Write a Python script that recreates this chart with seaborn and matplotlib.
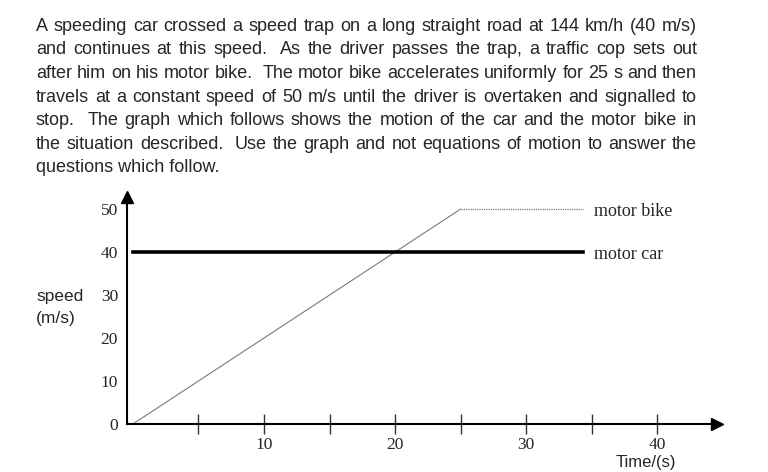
import numpy as np
import pandas as pd
import matplotlib
matplotlib.use("Agg")
import matplotlib.pyplot as plt
import seaborn as sns

# -----------------------------
# Data
# -----------------------------
bike_accel_time = [0, 25]
bike_accel_speed = [0, 50]
bike_const_time = [25, 34.3]
bike_const_speed = [50, 50]
car_time = [0, 34.3]
car_speed = [40, 40]

x_ticks = [5, 10, 15, 20, 25, 30, 35, 40]
x_labels = ["", "10", "", "20", "", "30", "", "40"]
y_ticks = [0, 10, 20, 30, 40, 50]

paragraph = [
    "A speeding car crossed a speed trap on a long straight road at 144 km/h (40 m/s)",
    "and continues at this speed.  As the driver passes the trap, a traffic cop sets out",
    "after him on his motor bike.  The motor bike accelerates uniformly for 25 s and then",
    "travels at a constant speed of 50 m/s until the driver is overtaken and signalled to",
    "stop.  The graph which follows shows the motion of the car and the motor bike in",
    "the situation described.  Use the graph and not equations of motion to answer the",
    "questions which follow.",
]

sns.set_style("white")
plt.rcParams["font.family"] = ["Liberation Sans", "DejaVu Sans"]

W, H = 768, 472
fig = plt.figure(figsize=(W / 100, H / 100), dpi=100)

# axes placed in pixel terms: spine from x=127 to 717, y=424 up to 197
ax = fig.add_axes([127 / W, (H - 424) / H, 590 / W, 227 / H])

bike1 = pd.DataFrame({"t": bike_accel_time, "v": bike_accel_speed})
bike2 = pd.DataFrame({"t": bike_const_time, "v": bike_const_speed})
car = pd.DataFrame({"t": car_time, "v": car_speed})

sns.lineplot(data=bike1, x="t", y="v", ax=ax, color="#7a7a7a", linewidth=0.8)
sns.lineplot(data=bike2, x="t", y="v", ax=ax, color="#7a7a7a", linewidth=0.9,
             linestyle=(0, (1, 0.8)))
sns.lineplot(data=car, x="t", y="v", ax=ax, color="black", linewidth=2.6,
             solid_capstyle="projecting")

ax.set_xlim(-0.45, 44.55)
ax.set_ylim(0, 52.8)

for side in ["top", "right"]:
    ax.spines[side].set_visible(False)
for side in ["left", "bottom"]:
    ax.spines[side].set_color("black")
    ax.spines[side].set_linewidth(1.5)

# arrow heads
ax.plot(1, 0, marker=">", color="black", markersize=9, transform=ax.transAxes, clip_on=False)
ax.plot(0, 1, marker="^", color="black", markersize=9, transform=ax.transAxes, clip_on=False)

serif = ["Liberation Serif", "DejaVu Serif"]
ax.set_xticks(x_ticks)
ax.set_xticklabels(x_labels, family=serif, fontsize=12.5)
ax.set_yticks(y_ticks)
ax.set_yticklabels([str(v) for v in y_ticks], family=serif, fontsize=12.5)
ax.tick_params(axis="x", bottom=True, direction="inout", length=15, width=1,
               color="#333333", pad=2)
ax.tick_params(axis="y", left=False, length=0, pad=6.5)
ax.set_xlabel("")
ax.set_ylabel("")

ax.text(35.2, 50, "motor bike", family=serif, fontsize=13, va="center_baseline", ha="left")
ax.text(35.2, 40, "motor car", family=serif, fontsize=13, va="center_baseline", ha="left")

fig.text(36 / W, 1 - 296 / H, "speed", fontsize=12.5, va="center", ha="left")
fig.text(36 / W, 1 - 318 / H, "(m/s)", fontsize=12.5, va="center", ha="left")
fig.text(646 / W, 1 - 463 / H, "Time/(s)", fontsize=12, va="center", ha="center")

# -----------------------------
# Justified paragraph
# -----------------------------
renderer = fig.canvas.get_renderer()
left_px, right_px = 36, 697
fs = 13


def word_width(word):
    t = fig.text(0, 0, word, fontsize=fs)
    w = t.get_window_extent(renderer).width
    t.remove()
    return w


for i, line in enumerate(paragraph):
    y = 1 - (30.7 + 23.6 * i) / H
    if i == len(paragraph) - 1:
        fig.text(left_px / W, y, line, fontsize=fs, va="baseline", ha="left")
        continue
    tokens = line.split(" ")
    widths = [word_width(tok) if tok else 0 for tok in tokens]
    gap = (right_px - left_px - sum(widths)) / (len(tokens) - 1)
    x = left_px
    for tok, w in zip(tokens, widths):
        if tok:
            fig.text(x / W, y, tok, fontsize=fs, va="baseline", ha="left")
        x += w + gap

fig.savefig("out.png", dpi=100)
